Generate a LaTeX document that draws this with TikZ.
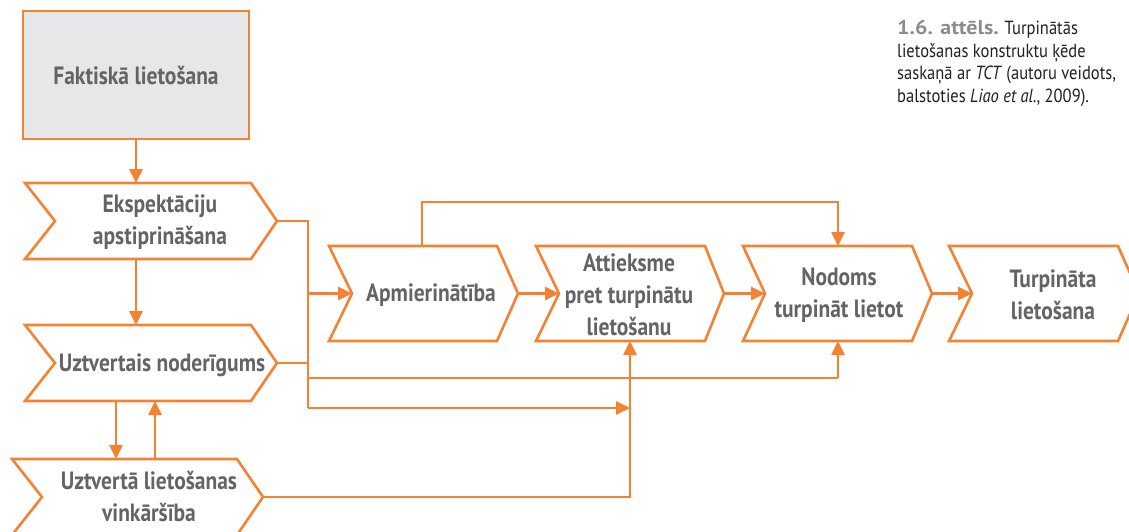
\documentclass[tikz,border=0pt]{standalone}
\usepackage{fontspec}
\newfontfamily\lab{PT Sans}[FakeStretch=0.86]
\newfontfamily\capf{PT Sans}[FakeStretch=0.87]
\newfontfamily\capb{PT Sans Bold}[FakeStretch=1.1]
\usetikzlibrary{arrows.meta}
\definecolor{org}{HTML}{F48232}
\definecolor{tg}{HTML}{636466}
\definecolor{boxg}{HTML}{E6E7E8}
\definecolor{capg}{HTML}{8A8C8F}
\definecolor{capt}{HTML}{231F20}
\tikzset{
  line/.style={draw=org, line width=2.6pt},
  arr/.style={line, -{Triangle[length=14pt,width=13pt]}},
  lbl/.style={text=tg, font=\lab\bfseries\fontsize{25}{32}\selectfont, align=center, inner sep=0pt},
  capline/.style={text=capt, font=\capf\fontsize{19}{22.7}\selectfont, anchor=base west, inner sep=0pt},
}
% name, xl, notch, xr, tip, yt, yb
\newcommand{\chevron}[7]{%
  \draw[line, line join=miter] (#2,#6) -- (#4,#6) -- (#5,{(#6+#7)/2}) -- (#4,#7) -- (#2,#7) -- (#3,{(#6+#7)/2}) -- cycle;
  \coordinate (#1-tip) at (#5,{(#6+#7)/2});
  \coordinate (#1-notch) at (#3,{(#6+#7)/2});
  \coordinate (#1-tl) at (#2,#6);
  \coordinate (#1-bl) at (#2,#7);
}
\begin{document}
\begin{tikzpicture}[x=1pt,y=-1pt]
\useasboundingbox (0,0) rectangle (1129,532);
\clip (0,0) rectangle (1129,532);

% Box
\node[draw=org, line width=2.6pt, fill=boxg, minimum width=226pt, minimum height=128pt, inner sep=0pt] (F) at (136,75) {};
\node[lbl] (Ft) at (136,76) {Faktiskā lietošana};

% chevrons
\chevron{E}{25}{55}{251}{277}{183}{259}
\chevron{U}{25}{55}{251}{277}{325}{401}
\chevron{V}{12}{42}{237}{263}{459}{535}
\chevron{A}{329}{352}{497}{518}{246}{341}
\chevron{T}{536}{559}{705}{724}{246}{341}
\chevron{N}{743}{765}{912}{932}{246}{341}
\chevron{C}{949}{972}{1118}{1139}{246}{341}

\node[lbl] (Et) at (160,222) {Ekspektāciju\\apstiprināšana};
\node[lbl] (Ut) at (162,365) {Uztvertais noderīgums};
\node[lbl] (Vt) at (149,497) {Uztvertā lietošanas\\vinkāršība};
\node[lbl] (At) at (431,295) {Apmierinātība};
\node[lbl] (Tt) at (629,295) {Attieksme\\pret turpinātu\\lietošanu};
\node[lbl] (Nt) at (839,295) {Nodoms\\turpināt lietot};
\node[lbl] (Ct) at (1053,295) {Turpināta\\lietošana};

% coordinates for the bus lines
\coordinate (b1) at (308,221);
\coordinate (b2) at (308,293.5);
\coordinate (b3) at (308,363);
\coordinate (b4) at (308,378);
\coordinate (b5) at (308,408);
\coordinate (j1) at (630,408);
\coordinate (j2) at (838,378);
\coordinate (tb) at (630,341);
\coordinate (nb) at (838,341);
\coordinate (nt) at (838,246);
\coordinate (at) at (422,246);
\coordinate (h1) at (422,202);
\coordinate (h2) at (838,202);
\coordinate (ud1) at (116,401);
\coordinate (vd1) at (116,459);
\coordinate (vu1) at (155,459);
\coordinate (uu1) at (155,401);

% vertical arrows left column
\draw[arr] (F.south) -- (F.south |- E-tl);
\draw[arr] (F.south |- E-bl) -- (F.south |- U-tl);
\draw[arr] (ud1) -- (vd1);
\draw[arr] (vu1) -- (uu1);

% bus
\draw[line] (E-tip) -- (b1) -- (b5);
\draw[line] (U-tip) -- (b3);
\draw[arr] (b2) -- (A-notch);
\draw[arr] (b5) -- (j1);
\draw[line] (b4) -- (j2);
\draw[arr] (j2) -- (nb);
\draw[arr] (V-tip) -| (tb);

% top loop
\draw[arr] (at) -- (h1) -- (h2) -- (nt);

% chain
\draw[arr] (A-tip) -- (T-notch);
\draw[arr] (T-tip) -- (N-notch);
\draw[arr] (N-tip) -- (C-notch);

% caption
\node[capline] (c1) at (897,35) {{\capb\fontsize{20}{22.7}\selectfont\color{capg}1.6. attēls.} Turpinātās};
\node[capline] (c2) at (897,57.5) {lietošanas konstruktu ķēde};
\node[capline] (c3) at (897,80) {saskaņā ar \textit{TCT} (autoru veidots,};
\node[capline] (c4) at (897,102.5) {balstoties \textit{Liao et al.}, 2009).};
\end{tikzpicture}
\end{document}
